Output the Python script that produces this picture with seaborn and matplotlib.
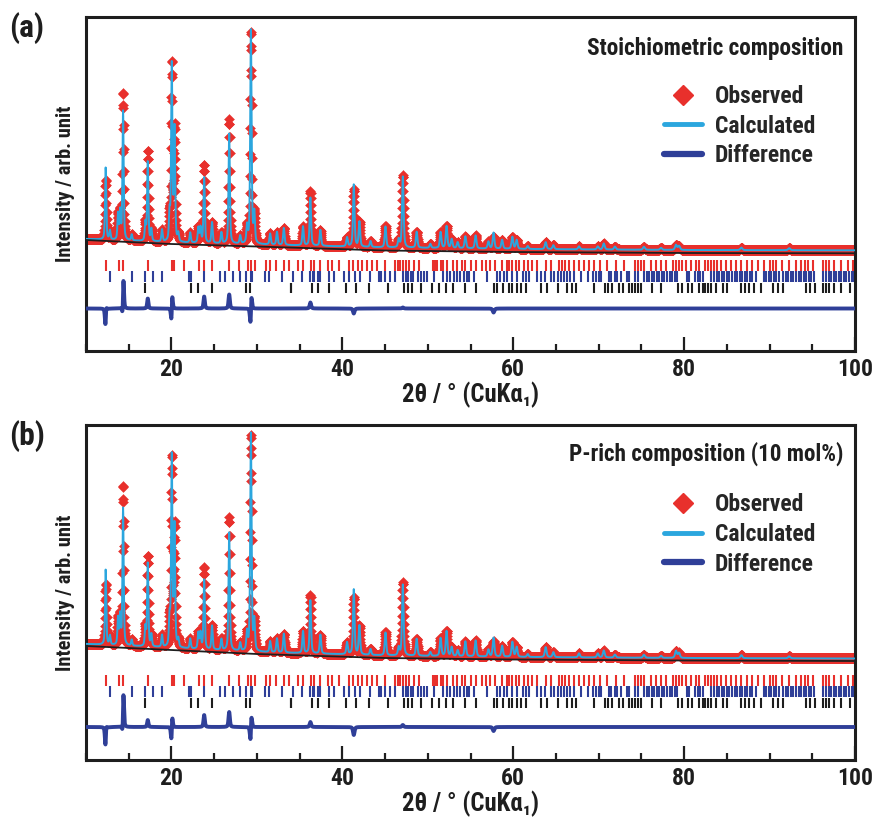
import numpy as np
import matplotlib
matplotlib.use("Agg")
import matplotlib.pyplot as plt
from matplotlib import font_manager
from matplotlib.lines import Line2D
from matplotlib.ticker import MultipleLocator
import seaborn as sns

# ---------------------------------------------------------------- data
# Background (black curve) knots, 2theta in degrees / counts
bg_tth = [10, 20, 30, 45, 60, 80, 100]
bg_a = [1800, 1400, 1150, 750, 600, 500, 470]
bg_b = [2000, 1600, 1200, 800, 650, 550, 500]
# Level of the calculated profile between the resolved reflections
base_a = [1900, 1550, 1350, 1050, 900, 800, 770]
base_b = [2200, 1800, 1400, 1050, 900, 800, 750]

# Reflection positions of the fitted peaks (deg)
peak_pos = [12.30, 12.80, 13.75, 14.00, 14.34, 15.35, 16.95, 17.23, 17.65, 18.90,
            19.78, 20.04, 20.36, 20.80, 22.20, 23.15, 23.40, 23.83, 24.75, 25.85,
            26.76, 28.05, 28.85, 29.30, 29.70, 31.55, 32.35, 33.15, 35.40, 36.26,
            37.43, 40.55, 41.34, 42.00, 43.30, 45.05, 46.60, 47.08, 48.70, 50.30,
            51.50, 52.20, 52.80, 53.50, 54.40, 55.60, 57.10, 57.70, 58.70, 59.90,
            60.40, 61.70, 63.80, 64.70, 67.70, 69.90, 70.60, 71.90, 75.30, 77.30,
            79.05, 79.40, 86.70, 92.30]

# (a) stoichiometric composition: calculated / observed peak heights (counts)
calc_h_a = [7200, 900, 2600, 2800, 12900, 600, 1800, 8000, 1200, 1200,
            2700, 17600, 11200, 800, 1000, 1500, 1500, 6600, 2100, 1100,
            11000, 800, 1700, 21400, 3000, 1100, 1300, 1700, 1900, 4800,
            1600, 900, 6200, 2500, 600, 2100, 800, 7100, 1600, 400,
            1600, 2200, 900, 600, 1200, 1300, 700, 1600, 900, 1200,
            900, 300, 700, 400, 300, 300, 600, 300, 300, 200,
            500, 400, 250, 200]
obs_h_a = [6000, 900, 2600, 2800, 14800, 600, 1800, 9000, 1200, 1200,
           2700, 17700, 11200, 800, 1000, 1500, 1500, 7800, 2100, 1100,
           12400, 800, 1700, 21200, 3000, 1100, 1300, 1700, 1900, 5400,
           1600, 900, 5700, 2500, 600, 2100, 800, 7200, 1600, 400,
           1600, 2200, 900, 600, 1200, 1300, 700, 1200, 900, 1200,
           900, 300, 700, 400, 300, 300, 600, 300, 300, 200,
           500, 400, 250, 200]
# small misplacement of observed maxima (deg)
obs_shift_a = {12.30: 0.012, 14.34: 0.012, 20.04: 0.008, 29.30: 0.008}

# (b) P-rich composition (10 mol%)
calc_h_b = [7500, 900, 2700, 2900, 13700, 600, 1900, 8400, 1200, 1200,
            2800, 19000, 12000, 800, 1000, 1600, 1600, 7000, 2400, 1100,
            11800, 800, 1800, 21800, 3000, 1100, 1400, 1900, 2200, 5300,
            1900, 1200, 6500, 2900, 600, 2300, 800, 7100, 1700, 400,
            1800, 2500, 900, 600, 1500, 1600, 700, 1900, 1100, 1500,
            1000, 300, 1000, 500, 400, 400, 700, 300, 300, 200,
            700, 500, 300, 200]
obs_h_b = [6100, 900, 2700, 2900, 16000, 600, 1900, 9100, 1200, 1200,
           2800, 18800, 12000, 800, 1000, 1600, 1600, 8200, 2400, 1100,
           13300, 800, 1800, 21600, 3000, 1100, 1400, 1900, 2200, 5800,
           1900, 1200, 5700, 2900, 600, 2300, 800, 7300, 1700, 400,
           1800, 2500, 900, 600, 1500, 1600, 700, 1500, 1100, 1500,
           1000, 300, 1000, 500, 400, 400, 700, 300, 300, 200,
           700, 500, 300, 200]
obs_shift_b = {12.30: 0.012, 14.34: 0.012, 20.04: 0.007, 29.30: 0.007}

# Bragg reflection markers of the three phases (deg)
ticks_phase1 = [12.34, 13.87, 14.34, 17.27, 20.04, 20.32, 21.49, 23.22, 23.83, 24.80,
                26.76, 27.93, 28.95, 29.30, 29.77, 31.06, 31.53, 32.27, 33.17, 33.75,
                34.81, 35.35, 36.33, 36.72, 37.34, 38.28, 38.8, 39.6, 40.75, 41.3,
                41.8, 42.3, 42.9, 43.5, 44.0, 45.05, 46.2, 46.5, 46.8, 47.1,
                47.4, 47.8, 48.4, 49.0, 50.6, 50.9, 51.1, 51.5, 51.8, 52.2,
                52.9, 53.4, 54.0, 54.4, 55.0, 55.6, 56.4, 56.8, 57.3, 57.9,
                58.7, 59.3, 59.5, 59.9, 60.3, 60.7, 61.3, 61.7, 62.2, 62.8,
                63.8, 64.4, 65.4, 65.7, 66.1, 66.5, 67.1, 67.7, 68.3, 68.9,
                69.5, 70.2, 71.0, 72.0, 73.0, 74.2, 74.6, 75.0, 75.3, 76.1,
                76.7, 77.3, 77.9, 78.7, 79.0, 79.4, 79.8, 80.2, 80.8, 81.4,
                81.8, 82.4, 82.8, 83.2, 83.5, 83.9, 84.3, 84.9, 85.5, 86.1,
                86.7, 87.4, 88.0, 88.6, 89.4, 90.0, 90.4, 90.8, 91.4, 92.3,
                93.1, 93.7, 94.1, 94.5, 95.1, 96.2, 96.6, 97.0, 97.6, 98.4,
                99.2, 99.8]
ticks_phase2 = [12.81, 15.35, 16.92, 17.82, 18.95, 22.10, 22.25, 23.83, 25.71, 26.30,
                27.20, 28.05, 28.72, 29.30, 29.40, 30.98, 31.45, 32.89, 34.23, 35.28,
                36.18, 36.55, 36.70, 37.11, 37.35, 38.41, 39.0, 40.2, 40.75, 41.5,
                42.1, 43.2, 44.3, 44.5, 45.05, 45.6, 46.2, 47.1, 47.4, 47.7,
                48.0, 48.3, 48.8, 49.15, 49.5, 49.9, 50.7, 51.8, 52.2, 52.6,
                53.1, 53.4, 53.8, 54.2, 54.6, 54.8, 55.4, 56.96, 58.1, 58.5,
                58.9, 59.3, 59.9, 60.5, 61.1, 61.45, 61.8, 62.8, 63.2, 63.7,
                64.4, 64.8, 65.2, 65.6, 66.0, 66.3, 66.7, 67.1, 67.9, 68.7,
                69.3, 69.7, 70.0, 70.3, 71.2, 71.5, 71.9, 72.2, 72.6, 73.3,
                73.6, 74.3, 74.6, 75.3, 75.6, 75.9, 76.2, 76.5, 76.8, 77.1,
                77.4, 77.7, 78.0, 78.3, 78.6, 78.9, 79.2, 80.3, 80.6, 81.3,
                81.6, 81.9, 82.2, 83.2, 83.5, 83.8, 84.1, 84.4, 84.7, 85.0,
                85.3, 85.6, 85.9, 86.2, 86.5, 86.8, 87.1, 87.4, 87.7, 88.0,
                88.4, 89.3, 89.6, 89.9, 90.2, 90.5, 90.8, 91.1, 91.6, 91.9,
                92.2, 92.5, 92.8, 93.1, 93.4, 93.7, 94.0, 94.3, 94.6, 94.9,
                95.2, 96.3, 96.6, 96.9, 97.2, 97.5, 97.8, 98.1, 98.4, 98.7,
                99.0, 99.3, 99.6, 99.9]
ticks_phase3 = [16.92, 22.27, 23.09, 24.80, 28.72, 29.23, 33.95, 34.05, 36.46, 37.16,
                38.41, 40.4, 41.65, 43.1, 45.4, 47.2, 47.7, 48.2, 49.15, 50.5,
                51.3, 52.1, 53.0, 54.4, 55.6, 57.7, 58.1, 58.8, 59.5, 59.9,
                60.4, 60.9, 61.5, 63.2, 64.0, 65.2, 66.3, 66.9, 67.3, 69.5,
                70.7, 71.1, 71.6, 72.4, 72.8, 73.6, 73.9, 74.2, 74.6, 75.0,
                76.3, 77.3, 79.3, 79.8, 80.5, 80.9, 81.8, 82.2, 82.4, 82.8,
                83.2, 83.7, 84.5, 85.0, 86.7, 87.1, 87.6, 88.2, 89.0, 90.4,
                91.0, 91.6, 94.3, 94.7, 95.3, 96.2, 96.6, 97.0, 97.6, 98.4,
                99.4]

legend_labels = ["Observed", "Calculated", "Difference"]
x_label = "2θ / ° (CuKα₁)"
y_label = "Intensity / arb. unit"

# ---------------------------------------------------------------- style
sns.set_theme(style="white")
avail = {f.name for f in font_manager.fontManager.ttflist}
narrow = [n for n in ("Liberation Sans Narrow", "Roboto Condensed", "Arial Narrow",
                      "Open Sans Condensed", "Noto Sans Condensed",
                      "DejaVu Sans Condensed") if n in avail]
if not narrow:
    narrow = sorted(n for n in avail if "Narrow" in n or "Condensed" in n)
main_font = narrow[0] if narrow else "Liberation Sans"
plt.rcParams["font.family"] = [main_font, "DejaVu Sans"]
plt.rcParams["font.weight"] = "bold"

RED = "#e8302c"
CYAN = "#2ba6de"
NAVY = "#2f3f98"
BLACK = "#1e1e1e"

tth = np.arange(10.0, 100.0001, 0.02)


def profile(base, heights, tth, shifts=None):
    """Background level plus pseudo-Voigt reflections."""
    shifts = shifts or {}
    y = np.interp(tth, bg_tth, base).astype(float)
    for p, h in zip(peak_pos, heights):
        w = 0.16 + 0.0015 * (p - 10)
        d = (tth - p - shifts.get(p, 0.0)) / (w / 2)
        y += h * (0.5 * np.exp(-np.log(2) * d ** 2) + 0.5 / (1 + d ** 2))
    return y


fig = plt.figure(figsize=(8.72, 8.18), dpi=100)
W, H = 872, 818
renderer = fig.canvas.get_renderer()


def size_for(text, width_px):
    """Font size (pt) at which `text` is `width_px` pixels wide."""
    t = fig.text(0, 0, text, fontsize=10, fontweight="bold")
    w = t.get_window_extent(renderer).width
    t.remove()
    return 10 * width_px / w


fs_tick = size_for("100", 36)
fs_xlab = size_for(x_label, 137)
fs_ylab = size_for(y_label, 156)
fs_leg = size_for("Observed", 90)
fs_tag = size_for("(a)", 32)
leg_px = fs_leg * 100 / 72

panels = [
    dict(top=17, bottom=351, ylim=(-9300, 24100), bg=bg_a, base=base_a,
         calc=calc_h_a, obs=obs_h_a, shift=obs_shift_a,
         rows=(-200, -1300, -2400, -3500), diff0=-5050,
         title="Stoichiometric composition", title_w=257, title_y=0.905,
         tag="(a)", tag_y=12),
    dict(top=425, bottom=760, ylim=(-9400, 24100), bg=bg_b, base=base_b,
         calc=calc_h_b, obs=obs_h_b, shift=obs_shift_b,
         rows=(-900, -2000, -3100, -4200), diff0=-6100,
         title="P-rich composition (10 mol%)", title_w=275, title_y=0.913,
         tag="(b)", tag_y=420),
]

for pnl in panels:
    ax = fig.add_axes([86 / W, 1 - pnl["bottom"] / H, (855 - 86) / W,
                       (pnl["bottom"] - pnl["top"]) / H])
    calc = profile(pnl["base"], pnl["calc"], tth)
    obs = profile(pnl["base"], pnl["obs"], tth, pnl["shift"])
    diff = obs - calc + pnl["diff0"]

    sns.scatterplot(x=tth, y=obs, marker="D", s=26, color=RED, edgecolor=RED,
                    linewidth=0.3, ax=ax, zorder=2)
    sns.lineplot(x=tth, y=calc, color=CYAN, lw=1.4, ax=ax, zorder=3,
                 estimator=None, sort=False)
    sns.lineplot(x=bg_tth, y=pnl["bg"], color=BLACK, lw=1.3, ax=ax, zorder=4,
                 estimator=None, sort=False)
    sns.lineplot(x=tth, y=diff, color=NAVY, lw=2.8, ax=ax, zorder=3,
                 estimator=None, sort=False)

    r = pnl["rows"]
    ax.vlines(ticks_phase1, r[1], r[0], color=RED, lw=1.5)
    ax.vlines(ticks_phase2, r[2], r[1], color=NAVY, lw=1.5)
    ax.vlines(ticks_phase3, r[3], r[2] - 100, color=BLACK, lw=1.5)

    ax.set_xlim(10, 100)
    ax.set_ylim(*pnl["ylim"])
    ax.set_yticks([])
    ax.xaxis.set_major_locator(MultipleLocator(20))
    ax.xaxis.set_minor_locator(MultipleLocator(5))
    ax.tick_params(axis="x", which="both", direction="in", bottom=True, top=False,
                   colors=BLACK, labelsize=fs_tick, pad=5)
    ax.tick_params(axis="x", which="major", length=10, width=1.6)
    ax.tick_params(axis="x", which="minor", length=5, width=1.6)
    for lab in ax.get_xticklabels():
        lab.set_fontweight("bold")
    for sp in ax.spines.values():
        sp.set_visible(True)
        sp.set_color(BLACK)
        sp.set_linewidth(2.2)
    ax.grid(False)

    ax.set_xlabel(x_label, fontsize=fs_xlab, fontweight="bold",
                  labelpad=0.5, color=BLACK)
    ax.set_ylabel(y_label, fontsize=fs_ylab, fontweight="bold",
                  labelpad=8, color=BLACK)

    ax.text((843 - 86) / 769, pnl["title_y"], pnl["title"], transform=ax.transAxes,
            ha="right", va="center", fontsize=size_for(pnl["title"], pnl["title_w"]),
            fontweight="bold", color=BLACK)

    handles = [
        Line2D([], [], ls="none", marker="D", ms=10, color=RED, mec=RED),
        Line2D([], [], color=CYAN, lw=3.5),
        Line2D([], [], color=NAVY, lw=4.5),
    ]
    ax.legend(handles, legend_labels,
              loc="upper left", bbox_to_anchor=((664 - 86) / 769, 0.797),
              frameon=False, handlelength=38 / leg_px, handletextpad=13 / leg_px,
              labelspacing=max(34.5 / leg_px - 1.17, 0.05), borderpad=0,
              borderaxespad=0, prop={"weight": "bold", "size": fs_leg})

    fig.text(9 / W, 1 - pnl["tag_y"] / H, pnl["tag"], ha="left", va="top",
             fontsize=fs_tag * 1.1, fontweight="bold", color=BLACK)

fig.savefig("out.png", dpi=100)
